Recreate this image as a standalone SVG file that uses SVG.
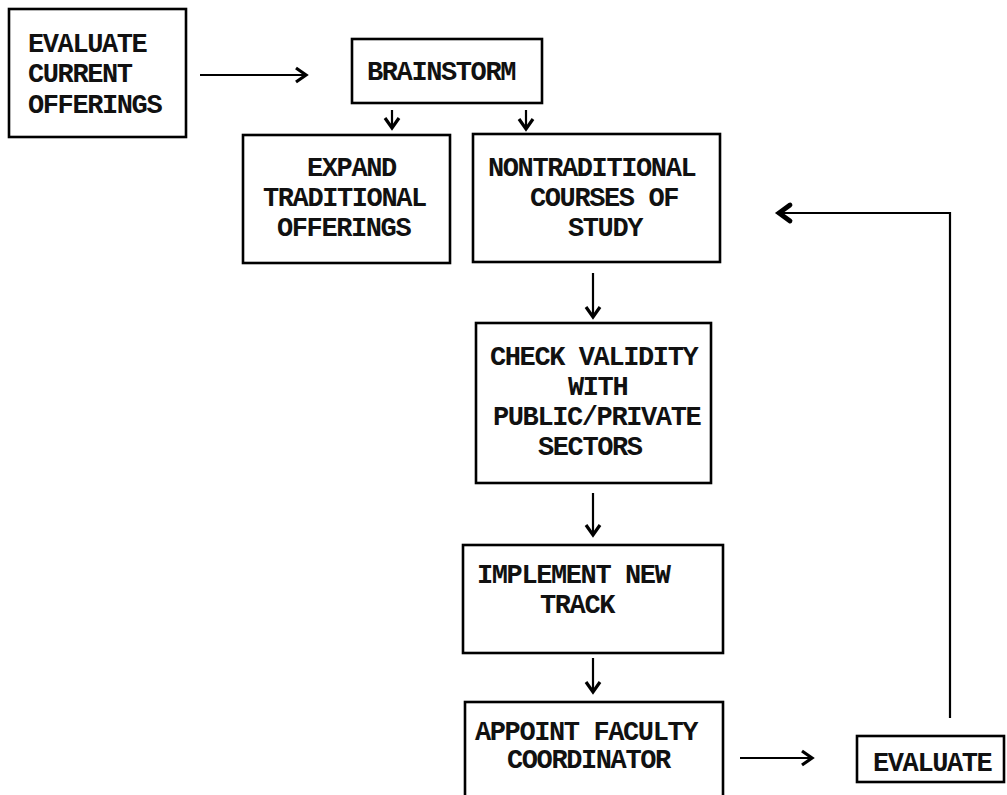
<svg xmlns="http://www.w3.org/2000/svg" width="1007" height="795" viewBox="0 0 1007 795">
<style>
.box{fill:none;stroke:#000;stroke-width:2.6}
.t{font-family:"Liberation Mono","DejaVu Sans Mono",monospace;font-size:27px;letter-spacing:-1.4px;font-weight:bold;fill:#111}
.c{fill:none;stroke:#000;stroke-width:2.2}
</style>
<defs>
<marker id="ah" markerUnits="userSpaceOnUse" markerWidth="20" markerHeight="20" refX="11" refY="8" orient="auto" overflow="visible">
<path d="M1,1 L11,8 L1,15" fill="none" stroke="#000" stroke-width="3.2" stroke-linejoin="miter"/>
</marker>
<marker id="ahb" markerUnits="userSpaceOnUse" markerWidth="20" markerHeight="24" refX="12" refY="10" orient="auto" overflow="visible">
<path d="M1,2 L12,10 L1,18" fill="none" stroke="#000" stroke-width="4.8" stroke-linecap="round"/>
</marker>
</defs>
<g id="connectors">
<path class="c" d="M200,75 H306" marker-end="url(#ah)"/>
<path class="c" d="M392,110 V128" marker-end="url(#ah)"/>
<path class="c" d="M526,110 V129" marker-end="url(#ah)"/>
<path class="c" d="M593,273 V317" marker-end="url(#ah)"/>
<path class="c" d="M593,493 V535" marker-end="url(#ah)"/>
<path class="c" d="M593,658 V692" marker-end="url(#ah)"/>
<path class="c" d="M740,758 H812" marker-end="url(#ah)"/>
<path class="c" d="M950,718 V213 H779" stroke-width="2.6" marker-end="url(#ahb)"/>
</g>
<g id="evaluate-current">
<rect class="box" x="9" y="9" width="177" height="128"/>
<text class="t" x="28" y="52">EVALUATE</text>
<text class="t" x="28" y="82">CURRENT</text>
<text class="t" x="28" y="113">OFFERINGS</text>
</g>
<g id="brainstorm">
<rect class="box" x="352" y="39" width="190" height="64"/>
<text class="t" x="367" y="80">BRAINSTORM</text>
</g>
<g id="expand">
<rect class="box" x="243" y="135" width="207" height="128"/>
<text class="t" x="307" y="176">EXPAND</text>
<text class="t" x="263" y="206">TRADITIONAL</text>
<text class="t" x="277" y="236">OFFERINGS</text>
</g>
<g id="nontraditional">
<rect class="box" x="473" y="134" width="247" height="128"/>
<text class="t" x="488" y="176">NONTRADITIONAL</text>
<text class="t" x="530" y="206">COURSES OF</text>
<text class="t" x="568" y="236">STUDY</text>
</g>
<g id="check-validity">
<rect class="box" x="476" y="323" width="235" height="160"/>
<text class="t" x="490" y="365">CHECK VALIDITY</text>
<text class="t" x="568" y="395">WITH</text>
<text class="t" x="493" y="425">PUBLIC/PRIVATE</text>
<text class="t" x="538" y="455">SECTORS</text>
</g>
<g id="implement">
<rect class="box" x="463" y="545" width="260" height="108"/>
<text class="t" x="477" y="583">IMPLEMENT NEW</text>
<text class="t" x="540" y="613">TRACK</text>
</g>
<g id="appoint">
<rect class="box" x="465" y="702" width="258" height="100"/>
<text class="t" x="475" y="740">APPOINT FACULTY</text>
<text class="t" x="507" y="768">COORDINATOR</text>
</g>
<g id="evaluate">
<rect class="box" x="857" y="736" width="147" height="46"/>
<text class="t" x="873" y="771">EVALUATE</text>
</g>
</svg>
